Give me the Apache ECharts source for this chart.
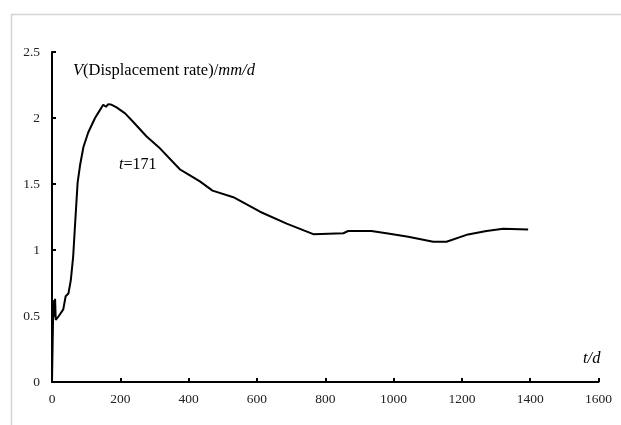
<!DOCTYPE html>
<html>
<head>
<meta charset="utf-8">
<script src="https://cdn.jsdelivr.net/npm/echarts@6/dist/echarts.min.js"></script>
<style>
  html, body { margin: 0; padding: 0; background: #fff; }
  #chart { width: 621px; height: 425px; }
</style>
</head>
<body>
<div id="chart"></div>
<script>
// Elapsed time (days)
const days = [0, 4, 7, 9, 11, 20, 33, 40, 48, 55, 62, 67, 75, 82, 92, 106, 126, 138, 150, 158, 165, 175, 189, 214, 238, 277, 316, 375, 394, 433, 470, 531, 609, 687, 765, 853, 867, 935, 979, 1043, 1116, 1155, 1218, 1272, 1321, 1394];
// Displacement rate (mm/d)
const rate = [0, 0.62, 0.5, 0.63, 0.47, 0.5, 0.55, 0.65, 0.67, 0.77, 0.95, 1.17, 1.51, 1.64, 1.78, 1.89, 2.0, 2.05, 2.1, 2.085, 2.105, 2.1, 2.08, 2.035, 1.97, 1.86, 1.77, 1.61, 1.58, 1.52, 1.45, 1.4, 1.29, 1.2, 1.12, 1.127, 1.144, 1.144, 1.127, 1.1, 1.063, 1.063, 1.118, 1.144, 1.161, 1.156];

const xTicks = { min: 0, max: 1600, interval: 200 };
const yTicks = { min: 0, max: 2.5, interval: 0.5 };

const serif = '"Liberation Serif", "Times New Roman", serif';

const chart = echarts.init(document.getElementById('chart'), null, { renderer: 'canvas' });

chart.setOption({
  backgroundColor: '#ffffff',
  animation: false,
  grid: { left: 52, right: 22.5, top: 52, bottom: 43, containLabel: false },
  graphic: [
    {
      type: 'rect',
      shape: { x: 11.5, y: 14.5, width: 800, height: 600 },
      style: { fill: 'none', stroke: '#d4d4d4', lineWidth: 1.5 },
      silent: true
    },
    {
      type: 'text',
      left: 73, top: 62,
      style: {
        text: '{i|V}(Displacement rate)/{i|mm/d}',
        rich: {
          i: { fontFamily: serif, fontStyle: 'italic', fontSize: 16.5, fill: '#000' }
        },
        fontFamily: serif, fontSize: 16.5, fill: '#000'
      }
    },
    {
      type: 'text',
      left: 119, top: 157,
      style: {
        text: '{i|t}=171',
        rich: {
          i: { fontFamily: serif, fontStyle: 'italic', fontSize: 16, fill: '#000' }
        },
        fontFamily: serif, fontSize: 16, fill: '#000'
      }
    },
    {
      type: 'text',
      left: 583, top: 350,
      style: {
        text: 't/d',
        fontFamily: serif, fontStyle: 'italic', fontSize: 16.5, fill: '#000'
      }
    }
  ],
  xAxis: {
    type: 'value',
    min: xTicks.min, max: xTicks.max, interval: xTicks.interval,
    axisLine: { show: true, lineStyle: { color: '#000', width: 2 } },
    axisTick: { show: true, inside: true, length: 4, lineStyle: { color: '#000', width: 2 } },
    axisLabel: { color: '#222', fontFamily: serif, fontSize: 13.5, margin: 10, formatter: v => String(v) },
    splitLine: { show: false }
  },
  yAxis: {
    type: 'value',
    min: yTicks.min, max: yTicks.max, interval: yTicks.interval,
    axisLine: { show: true, lineStyle: { color: '#000', width: 2 } },
    axisTick: { show: true, inside: true, length: 4, lineStyle: { color: '#000', width: 2 } },
    axisLabel: { color: '#222', fontFamily: serif, fontSize: 13.5, margin: 12, formatter: v => String(v) },
    splitLine: { show: false }
  },
  series: [{
    type: 'line',
    data: days.map((d, i) => [d, rate[i]]),
    showSymbol: false,
    smooth: false,
    lineStyle: { color: '#000', width: 2 },
    z: 3
  }]
});
</script>
</body>
</html>
